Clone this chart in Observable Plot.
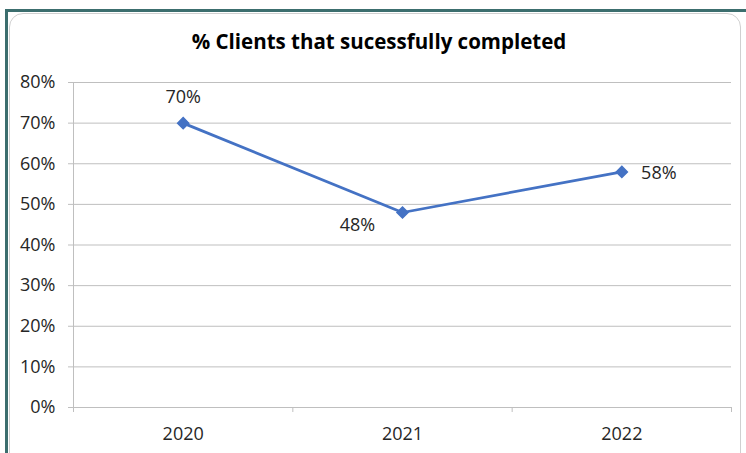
<!DOCTYPE html>
<html>
<head>
<meta charset="utf-8">
<script src="https://cdn.jsdelivr.net/npm/d3@7"></script>
<script src="https://cdn.jsdelivr.net/npm/@observablehq/plot@0.6"></script>
<style>
  html, body { margin: 0; padding: 0; background: #fff; }
  #wrap { position: relative; width: 746px; height: 453px; overflow: hidden; font-family: "Open Sans", Lato, sans-serif; }
  #frame { position: absolute; left: 5px; top: 9px; width: 760px; height: 460px; border-top: 3px solid #3c6e6e; border-left: 3px solid #3c6e6e; box-sizing: border-box; }
  #inner { position: absolute; left: 9px; top: 13px; width: 732px; height: 455px; border: 1px solid #d0d0d0; border-radius: 14px; box-sizing: border-box; }
  #title { position: absolute; left: 0; width: 758px; top: 27px; text-align: center; font-weight: bold; font-size: 20.5px; color: #000; }
  #chart { position: absolute; left: 0; top: 0; }
</style>
</head>
<body>
<div id="wrap">
  <div id="frame"></div>
  <div id="inner"></div>
  <div id="title">% Clients that sucessfully completed</div>
  <div id="chart"></div>
</div>
<script>
const years = ["2020", "2021", "2022"];
const values = [0.70, 0.48, 0.58];
const yTicks = [0, 0.1, 0.2, 0.3, 0.4, 0.5, 0.6, 0.7, 0.8];

const data = years.map((y, i) => ({year: y, idx: i + 0.5, value: values[i]}));
const pct = d3.format(".0%");
const blue = "#4472C4";
const gray = "#bfbfbf";
const ink = "#262626";
const font = "'Open Sans', Lato, sans-serif";
const fs = 18;

const plot = Plot.plot({
  width: 746,
  height: 453,
  marginLeft: 73,
  marginRight: 15,
  marginTop: 82,
  marginBottom: 46,
  style: {fontFamily: font, fontSize: fs + "px", color: ink, background: "transparent"},
  x: {type: "linear", domain: [0, years.length]},
  y: {domain: [0, 0.8]},
  marks: [
    Plot.gridY(yTicks, {stroke: gray, strokeOpacity: 1, strokeWidth: 1}),
    Plot.axisY(yTicks, {tickFormat: pct, tickSize: 5, stroke: gray, tickPadding: 13, fill: ink, fontSize: fs, label: null}),
    Plot.ruleX([0], {y1: 0, y2: 0.8, stroke: gray}),
    Plot.ruleY([0], {stroke: gray}),
    Plot.axisX(d3.range(0, years.length + 1), {tickFormat: () => "", tickSize: 5, stroke: gray, label: null}),
    Plot.axisX(data.map(d => d.idx), {tickFormat: v => years[Math.round(v - 0.5)], tickSize: 0, tickPadding: 20, fill: ink, fontSize: fs, label: null}),
    Plot.line(data, {x: "idx", y: "value", stroke: blue, strokeWidth: 2.75}),
    Plot.dot(data, {x: "idx", y: "value", symbol: "diamond2", fill: blue, stroke: blue, r: 5}),
    Plot.text(data.filter((d, i) => i === 0), {x: "idx", y: "value", text: d => pct(d.value), dy: -26, fill: ink, fontSize: fs}),
    Plot.text(data.filter((d, i) => i === 1), {x: "idx", y: "value", text: d => pct(d.value), dx: -45, dy: 13, fill: ink, fontSize: fs}),
    Plot.text(data.filter((d, i) => i === 2), {x: "idx", y: "value", text: d => pct(d.value), dx: 37, dy: 1, fill: ink, fontSize: fs})
  ]
});
document.getElementById("chart").appendChild(plot);
</script>
</body>
</html>
